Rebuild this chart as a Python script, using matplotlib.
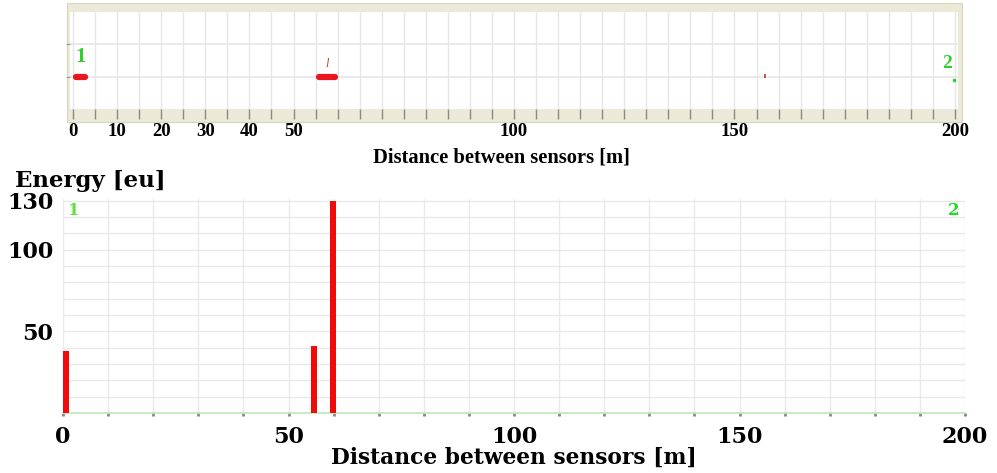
import matplotlib.pyplot as plt
from matplotlib.patches import Rectangle

# top strip: detected events along the line between the two sensors
event_start = [0.6, 55.8]
event_end = [2.8, 59.5]
event_level = [1, 1]
spot_x = [157]
top_tick_pos = [0, 10, 20, 30, 40, 50, 100, 150, 200]
top_tick_lab = ["0", "10", "20", "30", "40", "50", "100", "150", "200"]

# bottom chart: energy at each distance
bar_x = [0.6, 55.7, 59.9]
bar_energy = [38, 41, 130]
x_ticks = [0, 50, 100, 150, 200]
y_ticks = [50, 100, 130]

W, H = 997, 473
fig = plt.figure(figsize=(W / 100, H / 100), dpi=100)

def box(x0, y0, x1, y1):
    # pixel box (top-left origin) -> figure fraction
    return [x0 / W, 1 - y1 / H, (x1 - x0) / W, (y1 - y0) / H]

red = "#e8161e"
serif_tnr = "Liberation Serif"
serif_wide = "DejaVu Serif"

# beige frame around the top strip (behind the axes)
fig.patches.append(Rectangle((67 / W, 1 - 122 / H), 895 / W, 119 / H,
                             transform=fig.transFigure, facecolor="#ebe9d8",
                             edgecolor="#d8d5bd", lw=0.8, zorder=-10))

ax1 = fig.add_axes(box(70, 12, 958, 109))
ax1.set_facecolor("white")
ax1.set_xlim(-0.7, 200.7)
ax1.set_ylim(0, 3)
for s in ax1.spines.values():
    s.set_visible(False)
ax1.set_xticks(top_tick_pos)
ax1.set_xticks(range(0, 201, 5), minor=True)
ax1.set_xticklabels(top_tick_lab, fontfamily=serif_tnr, fontweight="bold", fontsize=13.5)
ax1.set_yticks([1, 2])
ax1.set_yticklabels([])
ax1.tick_params(axis="x", which="both", direction="out", length=7, width=1,
                color="#8a8a80", pad=3)
ax1.tick_params(axis="y", length=3, color="#9a9a90")
ax1.grid(True, which="both", axis="x", color="#e6e6e6", lw=1)
ax1.grid(True, axis="y", color="#e6e6e6", lw=1.2)
ax1.set_axisbelow(True)
for a, b, lv in zip(event_start, event_end, event_level):
    ax1.plot([a, b], [lv, lv], color=red, lw=4.5, solid_capstyle="round")
ax1.plot(spot_x, [1.03], marker="|", color="#c0303a", ms=3, mew=1.2)
ax1.text(57.6, 1.2, "l", color="#c84040", fontsize=9, ha="center", va="bottom",
         fontfamily=serif_tnr, style="italic")
ax1.text(0.6, 1.3, "1", color="#33cc33", fontsize=15, fontweight="bold",
         fontfamily=serif_tnr, ha="left", va="bottom")
ax1.text(198.2, 1.15, "2", color="#33cc33", fontsize=14, fontweight="bold",
         fontfamily=serif_tnr, ha="center", va="bottom")
ax1.plot([199.8], [0.9], marker="s", color="#33cc33", ms=1.5)
ax1.text(0.486, -0.4, "Distance between sensors [m]", transform=ax1.transAxes,
         ha="center", va="top", fontfamily=serif_tnr, fontweight="bold", fontsize=14.8)

# bottom energy chart
ax2 = fig.add_axes(box(63, 199, 965, 413))
ax2.set_xlim(0, 200)
ax2.set_ylim(0, 131)
ax2.bar(bar_x, bar_energy, width=1.3, color="#f00a0a", zorder=3)
for k in ["top", "right", "left"]:
    ax2.spines[k].set_visible(False)
ax2.spines["bottom"].set_color("#bfe8b8")
ax2.spines["bottom"].set_linewidth(1.2)
ax2.set_xticks(x_ticks)
ax2.set_xticks(range(0, 201, 10), minor=True)
ax2.set_yticks(y_ticks)
ax2.set_yticks(range(0, 131, 10), minor=True)
ax2.set_xticklabels([str(v) for v in x_ticks], fontfamily=serif_wide,
                    fontweight="bold", fontsize=16)
ax2.set_yticklabels([str(v) for v in y_ticks], fontfamily=serif_wide,
                    fontweight="bold", fontsize=16)
ax2.tick_params(axis="x", which="both", length=2, width=2, color="#888888", pad=7)
ax2.tick_params(axis="y", which="both", length=0, pad=7)
ax2.grid(True, which="both", color="#e9e9e9", lw=1.0)
ax2.set_axisbelow(True)
ax2.text(1.2, 129, "1", color="#66dd44", fontsize=12, fontweight="bold",
         fontfamily=serif_wide, ha="left", va="top")
ax2.text(197.5, 129, "2", color="#22dd22", fontsize=12, fontweight="bold",
         fontfamily=serif_wide, ha="center", va="top")
ax2.text(-0.053, 1.035, "Energy [eu]", transform=ax2.transAxes, ha="left",
         va="bottom", fontfamily=serif_wide, fontweight="bold", fontsize=16.5)
ax2.text(0.5, -0.16, "Distance between sensors [m]", transform=ax2.transAxes,
         ha="center", va="top", fontfamily=serif_wide, fontweight="bold", fontsize=15.7)

fig.savefig("out.png", dpi=100)
